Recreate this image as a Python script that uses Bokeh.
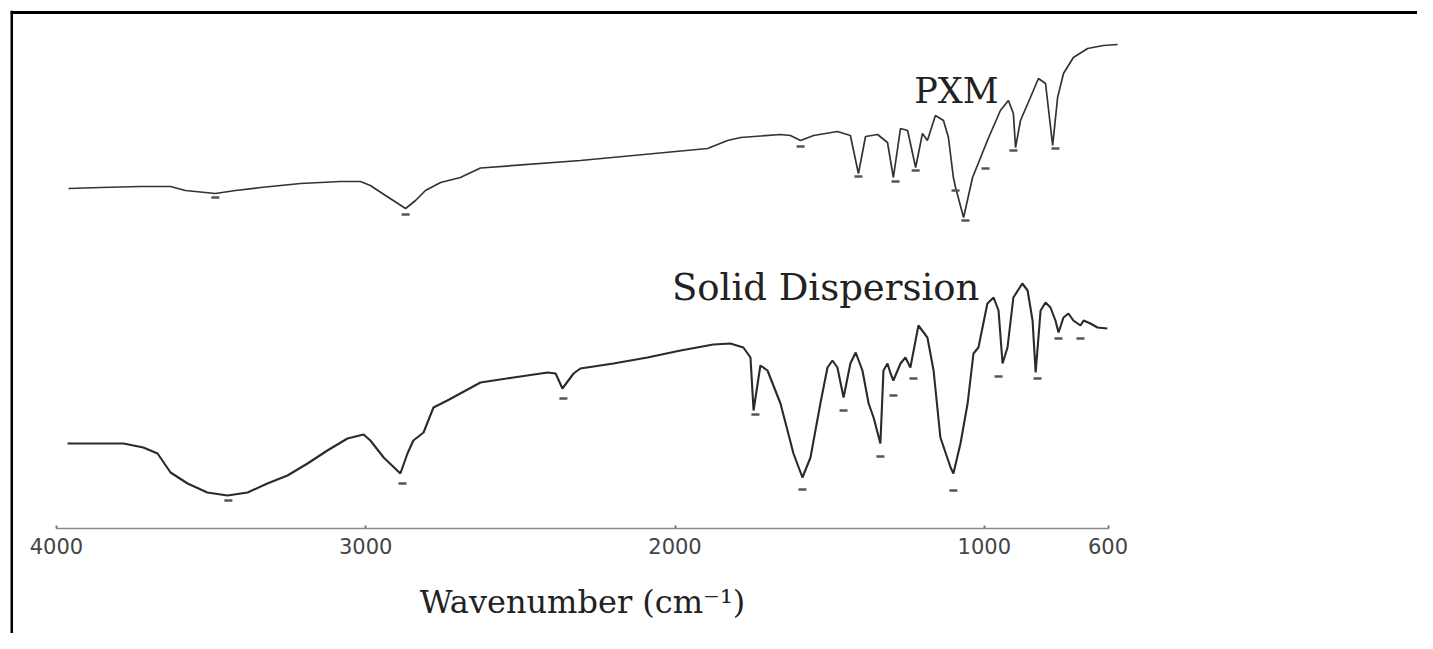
from bokeh.plotting import figure
from bokeh.models import Range1d, LinearAxis, FixedTicker
from bokeh.core.properties import value
from bokeh.embed import file_html
from bokeh.resources import INLINE

# ---- data (wavenumber in cm^-1, offset transmittance in arbitrary units) ----
pxm_wn = [3961, 3857, 3728, 3631, 3583, 3486, 3421, 3340, 3211, 3082, 3017, 2985, 2936,
          2871, 2839, 2807, 2758, 2694, 2629, 2306, 1895, 1830, 1788, 1659, 1627, 1594,
          1552, 1475, 1433, 1407, 1384, 1345, 1313, 1294, 1271, 1248, 1222, 1200, 1184,
          1158, 1132, 1116, 1100, 1093, 1067, 1038, 1012, 990, 948, 922, 906, 899, 883,
          851, 825, 802, 779, 763, 744, 712, 666, 615, 569]
pxm_t = [68.0, 68.2, 68.4, 68.4, 67.6, 67.0, 67.6, 68.2, 69.0, 69.4, 69.4, 68.6, 66.6,
         64.0, 65.6, 67.6, 69.2, 70.2, 72.1, 73.6, 76.0, 77.6, 78.2, 78.8, 78.6, 77.6,
         78.6, 79.4, 78.6, 71.0, 78.4, 78.8, 77.2, 70.2, 80.0, 79.6, 72.2, 79.0, 77.6,
         82.6, 81.6, 78.2, 70.2, 68.2, 62.2, 70.2, 74.2, 77.6, 83.6, 85.6, 83.0, 76.2,
         81.6, 86.2, 90.0, 89.0, 76.6, 86.2, 91.0, 94.2, 96.0, 96.6, 96.8]

sd_wn = [3964, 3857, 3783, 3719, 3673, 3631, 3576, 3512, 3447, 3382, 3318, 3253, 3188,
         3124, 3059, 3007, 2985, 2942, 2888, 2865, 2846, 2813, 2781, 2736, 2629, 2522,
         2412, 2386, 2364, 2328, 2306, 2199, 2089, 1982, 1876, 1821, 1779, 1756, 1746,
         1724, 1701, 1659, 1617, 1588, 1562, 1530, 1507, 1491, 1475, 1455, 1433, 1416,
         1394, 1374, 1358, 1336, 1326, 1313, 1303, 1294, 1271, 1255, 1239, 1213, 1184,
         1164, 1142, 1109, 1100, 1077, 1054, 1035, 1019, 990, 970, 954, 941, 925, 906,
         877, 860, 844, 834, 818, 802, 786, 770, 760, 744, 728, 712, 689, 679, 657, 634,
         602]
sd_t = [17.0, 17.0, 17.0, 16.2, 15.0, 11.2, 9.0, 7.2, 6.6, 7.2, 9.0, 10.6, 13.0,
        15.6, 18.0, 18.8, 17.6, 14.2, 11.0, 15.0, 17.6, 19.2, 24.2, 25.6, 29.2, 30.2,
        31.2, 31.0, 28.0, 31.0, 32.0, 33.0, 34.2, 35.6, 36.8, 37.0, 36.2, 34.2, 23.6,
        32.6, 31.6, 25.0, 15.0, 10.2, 14.2, 25.0, 32.2, 33.6, 32.2, 26.2, 33.0, 35.2,
        31.6, 25.0, 22.2, 17.0, 31.6, 33.0, 31.0, 29.6, 33.0, 34.2, 32.2, 40.6, 38.2,
        31.6, 18.2, 12.2, 11.0, 17.0, 25.0, 35.0, 36.2, 45.0, 46.2, 43.6, 33.0, 36.2, 46.2,
        49.0, 47.6, 41.6, 31.2, 43.6, 45.2, 44.2, 41.6, 39.2, 42.2, 43.0, 41.6, 40.6, 41.6,
        41.0, 40.2, 40.0]

# peak-label markers under the bands
pxm_peak_wn = [3486, 2871, 1594, 1407, 1287, 1222, 1093, 1061, 996, 906, 770]
pxm_peak_t = [66.2, 62.8, 76.4, 70.4, 69.4, 71.6, 67.6, 61.6, 72.0, 75.6, 76.0]
sd_peak_wn = [3444, 2881, 2361, 1740, 1588, 1455, 1336, 1294, 1229, 1100, 954, 828, 760, 689]
sd_peak_t = [5.6, 9.0, 26.0, 22.8, 7.8, 23.6, 14.4, 26.6, 30.0, 7.6, 30.4, 30.0, 38.0, 38.0]

tick_values = [4000, 3000, 2000, 1000, 600]
series_names = ["PXM", "Solid Dispersion"]
x_title = "Wavenumber (cm\u207b\u00b9)"

X0, X1 = 4148.5, -400.6
Y0, Y1 = -21.0, 103.6

p = figure(width=1417, height=633, output_backend="svg", toolbar_location=None,
           x_range=Range1d(X0, X1), y_range=Range1d(Y0, Y1),
           x_axis_location=None, y_axis_location=None,
           min_border_left=10, min_border_top=10, min_border_right=0, min_border_bottom=0)
p.outline_line_color = None
p.grid.visible = False
p.background_fill_color = "white"
p.border_fill_color = "white"

# borders (top and left) as bare axes, nudged just inside the frame
left_b = LinearAxis(fixed_location=X0 - 4, ticker=FixedTicker(ticks=[]),
                    axis_line_width=3, axis_line_color="black",
                    major_tick_line_color=None, minor_tick_line_color=None)
p.add_layout(left_b, "left")
top_b = LinearAxis(fixed_location=Y1 - 0.3, ticker=FixedTicker(ticks=[]),
                   axis_line_width=3, axis_line_color="black",
                   major_tick_line_color=None, minor_tick_line_color=None)
p.add_layout(top_b, "above")

# wavenumber axis
xa = LinearAxis(fixed_location=0, bounds=(600, 4000),
                ticker=FixedTicker(ticks=tick_values),
                axis_label=x_title,
                axis_line_color="#8a8a8a", axis_line_width=1.5,
                major_tick_in=3, major_tick_out=0, major_tick_line_color="#777777",
                major_tick_line_width=2,
                minor_tick_line_color=None,
                major_label_standoff=9,
                major_label_text_font="DejaVu Sans",
                major_label_text_font_size="21px",
                major_label_text_color="#444444",
                axis_label_standoff=26,
                axis_label_text_font="DejaVu Serif",
                axis_label_text_font_size="32px",
                axis_label_text_font_style="normal",
                axis_label_text_color="#222222")
p.add_layout(xa, "below")

p.line(pxm_wn, pxm_t, line_color="#333333", line_width=1.7)
p.line(sd_wn, sd_t, line_color="#2a2a2a", line_width=2.1)

p.scatter(pxm_peak_wn, pxm_peak_t, marker="dash", size=8, line_width=2.5,
          line_color="#555555")
p.scatter(sd_peak_wn, sd_peak_t, marker="dash", size=8, line_width=2.5,
          line_color="#555555")

p.text(x=[1090], y=[87.6], text=[series_names[0]], text_align="center",
       text_baseline="alphabetic", text_font=value("DejaVu Serif"),
       text_font_size="35px", text_color="#222222")
p.text(x=[1513], y=[48.2], text=[series_names[1]], text_align="center",
       text_baseline="alphabetic", text_font=value("DejaVu Serif"),
       text_font_size="37px", text_color="#222222")

open("out.html", "w").write(file_html(p, INLINE))
